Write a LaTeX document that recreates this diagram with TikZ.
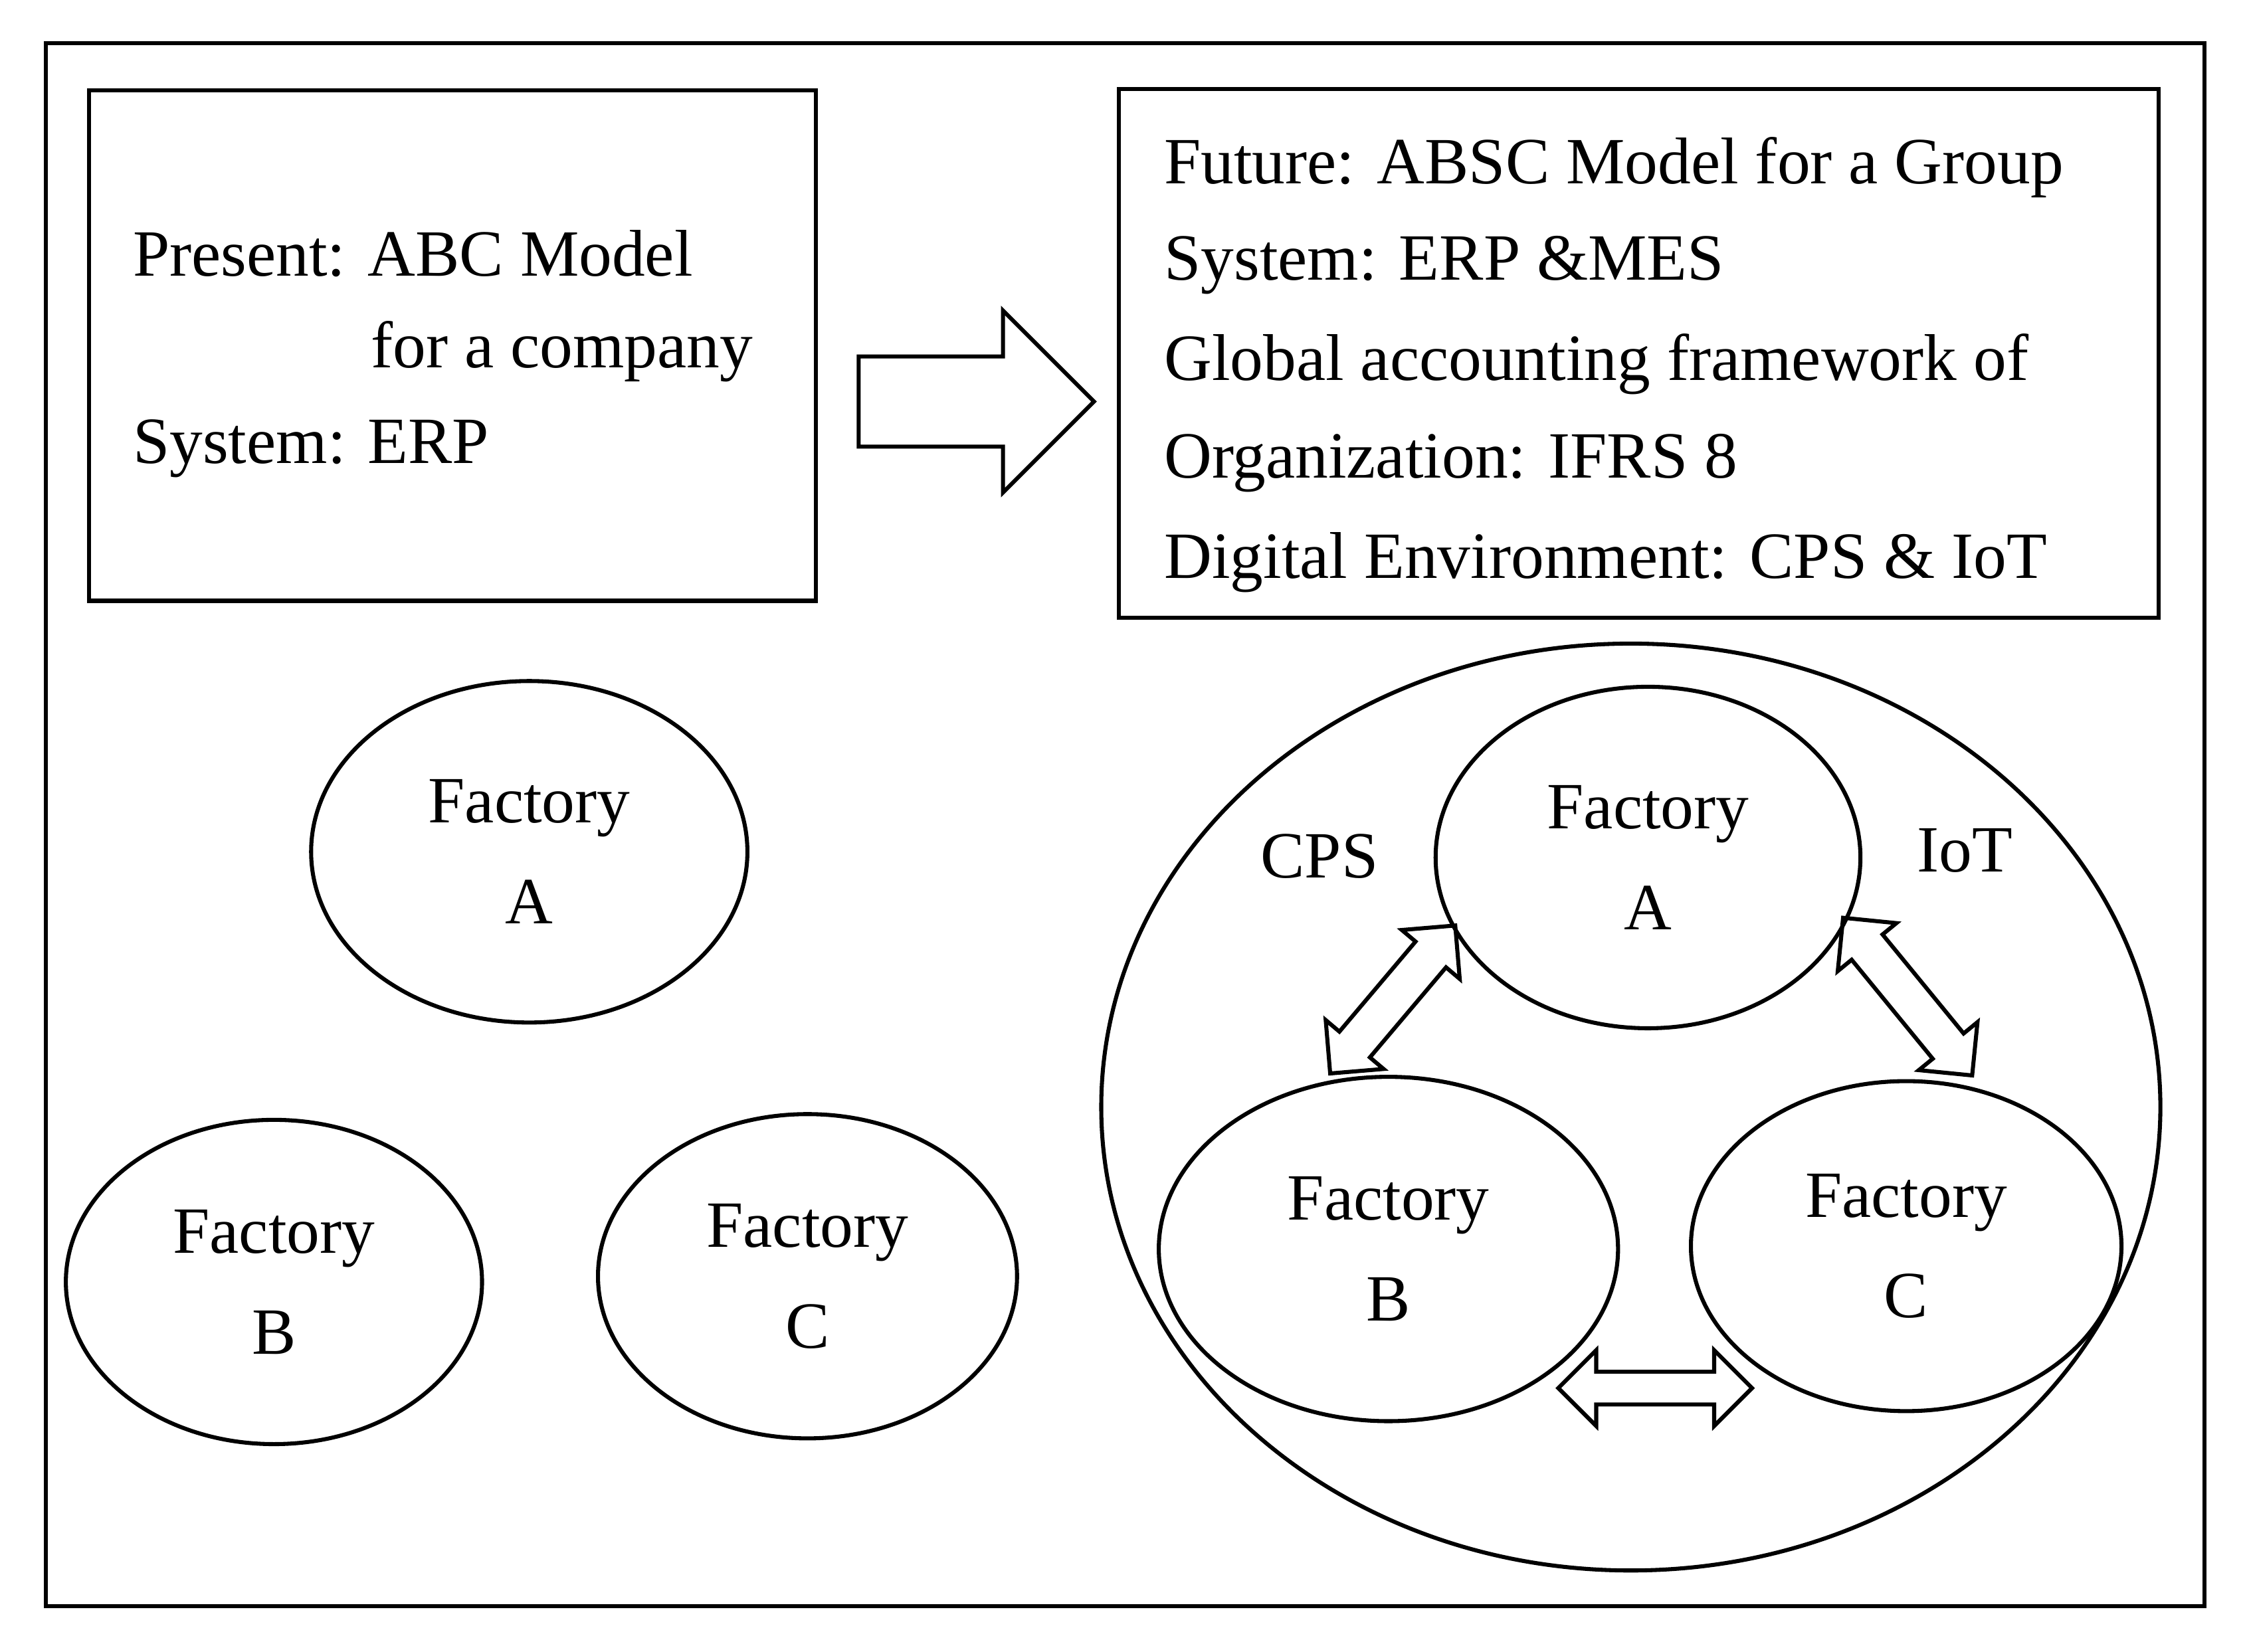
\documentclass[tikz,border=0pt]{standalone}
\usepackage{fontspec}
\setmainfont{Liberation Serif}
\usetikzlibrary{shapes.geometric,shapes.arrows}
\tikzset{
  fac/.style={draw,thick,ellipse,align=center,inner sep=0pt},
  txt/.style={anchor=west,inner sep=0pt},
  hollow/.style={draw,thick,double arrow,inner xsep=0pt,inner ysep=0.125cm,minimum width=0.5cm,double arrow head extend=0.125cm}
}
\begin{document}
\begin{tikzpicture}[x=0.01cm,y=-0.01cm,font=\fontsize{13.1}{20}\selectfont]
\useasboundingbox (0,0) rectangle (1568,1152);

    \draw[thick] (32,30) rectangle (1537,1120);
    \draw[thick] (62,63) rectangle (569,419);
    \draw[thick] (780,62) rectangle (1505,431);

    % present
    \node[txt] (p1) at (92,177) {Present: ABC Model};
    \node[txt] (p2) at (258,245) {for a company};
    \node[txt] (p3) at (92,313) {System: ERP};

    % future
    \node[txt] (f1) at (811,117) {Future: ABSC Model for a Group};
    \node[txt] (f2) at (811,185) {System: ERP \&MES};
    \node[txt] (f3) at (811,254) {Global accounting framework of};
    \node[txt] (f4) at (811,323) {Organization: IFRS 8};
    \node[txt] (f5) at (811,392) {Digital Environment: CPS \& IoT};

    \node[draw,thick,single arrow,inner xsep=0pt,inner ysep=0.3cm,minimum height=1.64cm,minimum width=1.24cm,single arrow head extend=0.32cm] (big) at (665,280) {};

    \node[fac,minimum width=3.04cm,minimum height=2.38cm] (lA) at (369,594) {Factory\\A};
    \node[fac,minimum width=2.90cm,minimum height=2.26cm] (lB) at (191,894) {Factory\\B};
    \node[fac,minimum width=2.92cm,minimum height=2.26cm] (lC) at (563,890) {Factory\\C};

    \node[draw,thick,ellipse,minimum width=7.38cm,minimum height=6.46cm] (grp) at (1137,772) {};
    \node[fac,minimum width=2.96cm,minimum height=2.38cm] (rA) at (1149,598) {Factory\\A};
    \node[fac,minimum width=3.20cm,minimum height=2.40cm] (rB) at (968,871) {Factory\\B};
    \node[fac,minimum width=3.00cm,minimum height=2.30cm] (rC) at (1329,869) {Factory\\C};

    \node (cps) at (920,597) {CPS};
    \node (iot) at (1370,593) {IoT};

    \node[hollow,minimum height=1.35cm,rotate=49.8] (ab) at (971,697) {};
    \node[hollow,minimum height=1.42cm,rotate=-50.7] (ac) at (1330,695) {};
    \node[hollow,minimum height=1.35cm,inner ysep=0.1cm,double arrow head extend=0.15cm] (bc) at (1154,968) {};

\end{tikzpicture}
\end{document}
